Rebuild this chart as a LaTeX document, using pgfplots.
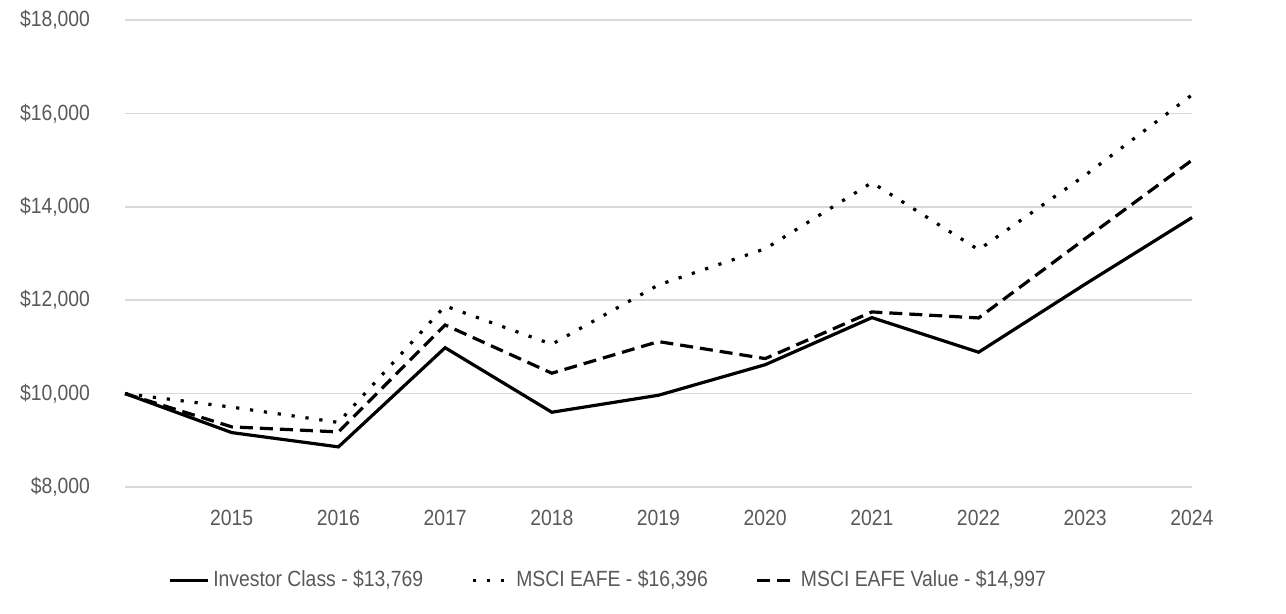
\documentclass[border=0pt]{standalone}
\usepackage{fontspec}
\setmainfont{Liberation Sans}[FakeStretch=0.88]
\usepackage{pgfplots}
\pgfplotsset{compat=1.18}
\definecolor{gridgray}{HTML}{D9D9D9}
\definecolor{labelgray}{HTML}{595959}

\begin{document}
\begin{tikzpicture}
\begin{axis}[
    scale only axis,
    width=533.5pt, height=233.5pt,
    xmin=2014, xmax=2024,
    ymin=8000, ymax=18000,
    xtick={2015,...,2024},
    ytick={8000,10000,...,18000},
    scaled y ticks=false,
    ymajorgrids=true,
    grid style={gridgray, line width=0.75pt},
    axis line style={draw=none},
    major tick length=0pt,
    clip=false,
    /pgf/number format/assume math mode=true,
    tick label style={font=\fontsize{11}{13}\selectfont, text=labelgray},
    xticklabel={\pgfmathprintnumber[set thousands separator={}]{\tick}},
    yticklabel={\$\pgfmathprintnumber[fixed, precision=0, set thousands separator={,}]{\tick}},
    yticklabel style={xshift=-14pt},
    xticklabel style={yshift=-8pt},
    legend columns=3,
    legend style={at={(0.4536,-0.2)}, anchor=center, draw=none,
        font=\fontsize{11}{13}\selectfont, text=labelgray,
        /tikz/every even column/.append style={column sep=22pt}},
    legend image code/.code={\draw[#1] (0pt,0pt) -- (19pt,0pt);},
]
\addplot[black, line width=1.6pt] coordinates {
    (2014,10000) (2015,9164) (2016,8858) (2017,10982) (2018,9600)
    (2019,9964) (2020,10618) (2021,11626) (2022,10885) (2023,12345) (2024,13769)
};
\addlegendentry{Investor Class - \$13,769}
\addplot[black, line width=1.6pt, dash pattern=on 1.6pt off 5.4pt] coordinates {
    (2014,10000) (2015,9709) (2016,9382) (2017,11876) (2018,11055)
    (2019,12327) (2020,13100) (2021,14518) (2022,13079) (2023,14676) (2024,16396)
};
\addlegendentry{MSCI EAFE - \$16,396}
\addplot[black, line width=1.6pt, dash pattern=on 6.5pt off 3.5pt] coordinates {
    (2014,10000) (2015,9287) (2016,9178) (2017,11469) (2018,10436)
    (2019,11113) (2020,10749) (2021,11748) (2022,11619) (2023,13318) (2024,14997)
};
\addlegendentry{MSCI EAFE Value - \$14,997}
\path (rel axis cs:-0.1172,-0.2719) rectangle (rel axis cs:1.0881,1.0428);
\end{axis}
\end{tikzpicture}
\end{document}
